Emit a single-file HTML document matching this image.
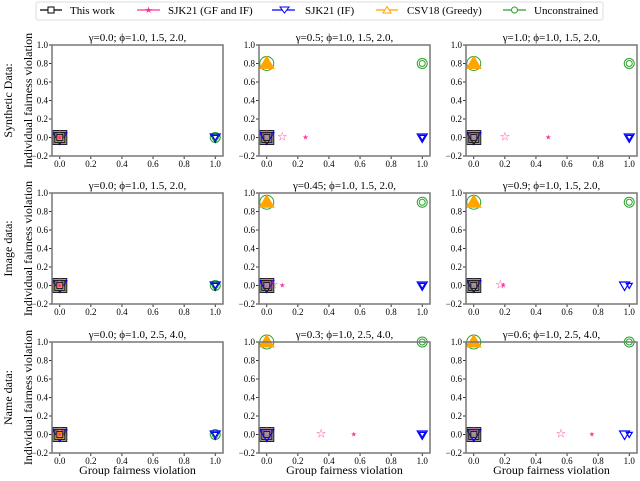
<!DOCTYPE html>
<html><head><meta charset="utf-8"><style>
body{margin:0;background:#fff;width:640px;height:476px;overflow:hidden}
svg{font-family:"Liberation Serif",serif}
</style></head><body>
<svg id="c" width="640" height="476">
<g>
<rect x="36" y="2" width="567" height="18" rx="2" fill="#fff" stroke="#ddd"/>
<g><line x1="40" y1="10" x2="62" y2="10" stroke="#000" stroke-width="1.3"/><rect x="48" y="7" width="6" height="6" fill="#fff" stroke="#000"/><text x="70" y="14" font-size="11">This work</text></g>
<g><line x1="137" y1="10" x2="160" y2="10" stroke="#ff3399" stroke-width="1.3"/><text x="148.5" y="13" font-size="9" fill="#ff3399" text-anchor="middle">★</text><text x="168" y="14" font-size="11">SJK21 (GF and IF)</text></g>
<g><line x1="272" y1="10" x2="295" y2="10" stroke="#0000ff" stroke-width="1.3"/><path d="M280,7 L289,7 L284.5,13 Z" fill="#fff" stroke="#0000ff"/><text x="305" y="14" font-size="11">SJK21 (IF)</text></g>
<g><line x1="376" y1="10" x2="398" y2="10" stroke="#ffa500" stroke-width="1.3"/><path d="M387,6.5 L391,13 L383,13 Z" fill="#fff" stroke="#ffa500"/><text x="407" y="14" font-size="11">CSV18 (Greedy)</text></g>
<g><line x1="503" y1="10" x2="526" y2="10" stroke="#2ca02c" stroke-width="1.3"/><circle cx="514.5" cy="10" r="3" fill="#fff" stroke="#2ca02c"/><text x="534" y="14" font-size="11">Unconstrained</text></g>
</g>
<g id="panels"></g>
</svg>
<script>
const titles = [
 ["γ=0.0; ϕ=1.0, 1.5, 2.0,","γ=0.5; ϕ=1.0, 1.5, 2.0,","γ=1.0; ϕ=1.0, 1.5, 2.0,"],
 ["γ=0.0; ϕ=1.0, 1.5, 2.0,","γ=0.45; ϕ=1.0, 1.5, 2.0,","γ=0.9; ϕ=1.0, 1.5, 2.0,"],
 ["γ=0.0; ϕ=1.0, 2.5, 4.0,","γ=0.3; ϕ=1.0, 2.5, 4.0,","γ=0.6; ϕ=1.0, 2.5, 4.0,"]];
const rowLabels = ["Synthetic Data:","Image data:","Name data:"];
const xTicks = [0.0,0.2,0.4,0.6,0.8,1.0];
const yTicks = [-0.2,0.0,0.2,0.4,0.6,0.8,1.0];
const thisWorkX = [[0,0,0],[0,0,0],[0,0,0],[0,0,0],[0,0,0],[0,0,0],[0,0,0],[0,0,0],[0,0,0]];
const thisWorkY = [[0,0,0],[0,0,0],[0,0,0],[0,0,0],[0,0,0],[0,0,0],[0,0,0],[0,0,0],[0,0,0]];
const gfifX = [[0,0,0],[0,0.1,0.25],[0,0.2,0.48],[0,0,0],[0,0.04,0.1],[0,0.17,0.19],[0,0,0],[0,0.35,0.56],[0,0.56,0.76]];
const gfifY = [[0,0,0],[0,0,0],[0,0,0],[0,0,0],[0,0,0],[0,0,0],[0,0,0],[0,0,0],[0,0,0]];
const ifX = [[0,1,1],[0,1,1],[0,1,1],[0,1,1],[0,1,1],[0,0.97,1],[0,1,1],[0,1,1],[0,0.97,1]];
const ifY = [[0,0,0],[0,0,0],[0,0,0],[0,0,0],[0,0,0],[0,0,0],[0,0,0],[0,0,0],[0,0,0]];
const csvX = [[0,0,0],[0,0,0],[0,0,0],[0,0,0],[0,0,0],[0,0,0],[0,0,0],[0,0,0],[0,0,0]];
const csvY = [[0,0,0],[0.8,0.8,0.8],[0.8,0.8,0.8],[0,0,0],[0.9,0.9,0.9],[0.9,0.9,0.9],[0,0,0],[1,1,1],[1,1,1]];
const uncX = [[0,1,1],[0,1,1],[0,1,1],[0,1,1],[0,1,1],[0,1,1],[0,1,1],[0,1,1],[0,1,1]];
const uncY = [[0,0,0],[0.8,0.8,0.8],[0.8,0.8,0.8],[0,0,0],[0.9,0.9,0.9],[0.9,0.9,0.9],[0,0,0],[1,1,1],[1,1,1]];
const sizes = [7,5,3];

const NS="http://www.w3.org/2000/svg";
const root=document.getElementById('panels');
function mk(tag,attrs,parent){const e=document.createElementNS(NS,tag);for(const k in attrs)e.setAttribute(k,attrs[k]);parent.appendChild(e);return e;}
const colL=[52,259,466], rowT=[45,193,342], W=171, H=111;
for(let r=0;r<3;r++){
 const lab=mk('text',{x:0,y:0,'font-size':12,'text-anchor':'middle',transform:`translate(12,${rowT[r]+H/2}) rotate(-90)`},root);
 lab.textContent=rowLabels[r];
 
 
 for(let c=0;c<3;c++){
  const i=r*3+c, L=colL[c], T=rowT[r];
  const sx=v=>L+(v+0.05)/1.1*W, sy=v=>T+H-(v+0.2)/1.2*H;
  const g=mk('g',{},root);
  
  
  const t=mk('text',{x:L+W/2,y:T-4,'font-size':11,'text-anchor':'middle'},g);
  t.textContent=titles[r][c];
  
  
  xTicks.forEach(v=>{mk('line',{x1:sx(v),x2:sx(v),y1:T+H,y2:T+H+3,stroke:'#000','stroke-width':0.8},g);
   const tx=mk('text',{x:sx(v),y:T+H+11,'font-size':9,'text-anchor':'middle'},g);tx.textContent=v.toFixed(1);
   
   });
  yTicks.forEach(v=>{mk('line',{x1:L-3,x2:L,y1:sy(v),y2:sy(v),stroke:'#000','stroke-width':0.8},g);
   const ty=mk('text',{x:L-4,y:sy(v)+3,'font-size':9,'text-anchor':'end'},g);ty.textContent=(v<0?'−':'')+Math.abs(v).toFixed(1);
   
   });
  if(c===0){const yl=mk('text',{x:0,y:0,'font-size':12,'text-anchor':'middle',transform:`translate(${L-20},${T+H/2}) rotate(-90)`},g);yl.textContent='Individual fairness violation';
   
   }
  if(r===2){const xl=mk('text',{x:L+W/2,y:T+H+21,'font-size':12,'text-anchor':'middle'},g);xl.textContent='Group fairness violation';
   
   }
  for(let k=0;k<3;k++){const s=sizes[k];
   let x=sx(uncX[i][k]),y=sy(uncY[i][k]);
   const m1=mk('circle',{cx:x,cy:y,r:s,fill:'none',stroke:'#2ca02c','stroke-width':1},g);
   
   
   x=sx(csvX[i][k]);y=sy(csvY[i][k]);
   const m2=mk('path',{d:`M${x},${y-s} L${x+s},${y+s*0.7} L${x-s},${y+s*0.7} Z`,fill:k===0?'#ffa500':'none',stroke:'#ffa500','stroke-width':1.2},g);
   
   
   x=sx(thisWorkX[i][k]);y=sy(thisWorkY[i][k]);
   const m3=mk('rect',{x:x-s,y:y-s,width:2*s,height:2*s,fill:k===0?'#999':'none',stroke:'#222','stroke-width':1},g);
   
   
   x=sx(ifX[i][k]);y=sy(ifY[i][k]);
   const m4=mk('path',{d:`M${x-s},${y-s*0.7} L${x+s},${y-s*0.7} L${x},${y+s} Z`,fill:'none',stroke:'#0000ff','stroke-width':1.2},g);
   
   
   x=sx(gfifX[i][k]);y=sy(gfifY[i][k]);
   const m5=mk('text',{x:x,y:y+s*0.6,'font-size':s*2.4,'text-anchor':'middle',fill:'#ff3399'},g);
   m5.textContent=k===2?'★':'☆';
   
   
  }
  mk('rect',{x:L,y:T,width:W,height:H,fill:'none',stroke:'#777','stroke-width':1.5},g);
 }
}
</script>
</body></html>
